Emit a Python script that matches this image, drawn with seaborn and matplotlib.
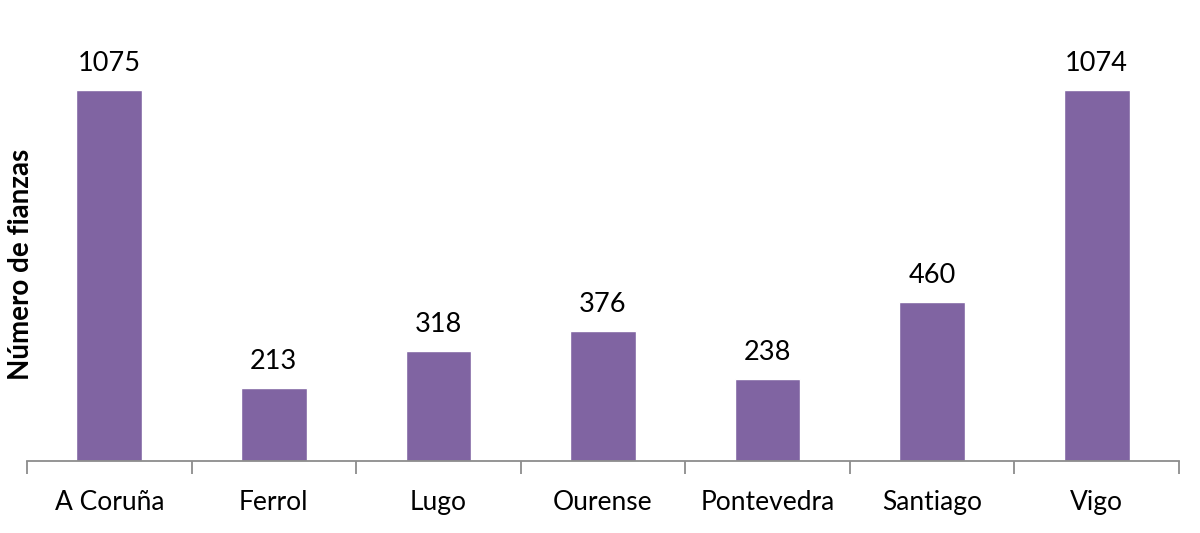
import matplotlib
matplotlib.use("Agg")
import matplotlib.pyplot as plt
import seaborn as sns
import pandas as pd
import numpy as np

categories = ["A Coruña", "Ferrol", "Lugo", "Ourense", "Pontevedra", "Santiago", "Vigo"]
values = [1075, 213, 318, 376, 238, 460, 1074]
ylabel = "Número de fianzas"

sns.set_theme(style="white")
plt.rcParams['font.family'] = ['Lato', 'DejaVu Sans']

df = pd.DataFrame({"cat": categories, "val": values})

fig = plt.figure(figsize=(12, 5.33), dpi=100)
ax = fig.add_axes([0.0225, 0.135, 0.96, 0.777])
sns.barplot(data=df, x="cat", y="val", color="#8064A2", saturation=1, width=0.4, ax=ax)

ax.set_xlim(-0.5, len(categories) - 0.5)
ax.set_ylim(0, 1200)
ax.set_yticks([])
for s in ["top", "right", "left"]:
    ax.spines[s].set_visible(False)
ax.spines["bottom"].set_color("#8c8c8c")
ax.spines["bottom"].set_linewidth(1.3)

ax.set_xticks(np.arange(len(categories)))
ax.set_xticklabels(categories, fontsize=19, color="black")
ax.tick_params(axis="x", which="major", length=0, pad=21)
ax.set_xticks(np.arange(-0.5, len(categories), 1), minor=True)
ax.tick_params(axis="x", which="minor", length=9, width=1.3, color="#8c8c8c", bottom=True)
ax.set_xlabel("")
ax.set_ylabel(ylabel, fontsize=20, fontweight="bold", color="black")
ax.yaxis.set_label_coords(0.006, 0.476)

for c in ax.containers:
    ax.bar_label(c, labels=[str(v) for v in values], fontsize=19.5, padding=10, color="black")

fig.savefig("out.png", dpi=100, facecolor="white")
